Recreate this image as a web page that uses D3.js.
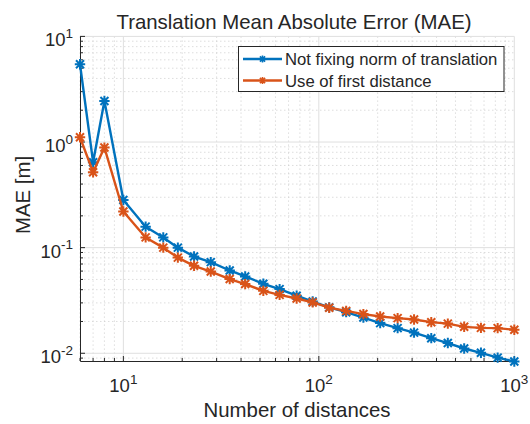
<!DOCTYPE html>
<html><head><meta charset="utf-8">
<script src="https://cdn.jsdelivr.net/npm/d3@7"></script>
<style>
html,body{margin:0;padding:0;background:#fff;}
text{font-family:"Liberation Sans",Arial,Helvetica,sans-serif;fill:#262626;}
</style></head>
<body><svg id="chart" width="530" height="424"></svg>
<script>
const distances = [6,7,8,10,13,16,19,23,28,35,42,52,63,77,93,113,138,169,206,253,307,376,457,554,675,822,1000];
const notFixing = [5.45,0.644,2.45,0.283,0.158,0.125,0.100,0.0824,0.0729,0.0608,0.0534,0.0455,0.0405,0.0351,0.0309,0.0272,0.0245,0.0218,0.0193,0.0173,0.0157,0.0139,0.0125,0.0111,0.0101,0.0091,0.00835];
const firstDist = [1.11,0.518,0.886,0.22,0.125,0.100,0.0805,0.0673,0.0594,0.0504,0.0452,0.039,0.0357,0.033,0.0303,0.0270,0.0252,0.0235,0.0223,0.0215,0.0209,0.0197,0.0191,0.0178,0.0174,0.0173,0.0167];
const seriesNames = ["Not fixing norm of translation","Use of first distance"];
const seriesColors = ["#0072BD","#D95319"];
const xMajor = [10,100,1000];
const yMajor = [0.01,0.1,1,10];
const xDomain = [6,1000];
const yDomain = [0.00845,10];
const title = "Translation Mean Absolute Error (MAE)";
const xLabel = "Number of distances";
const yLabel = "MAE [m]";

const svg = d3.select("#chart");
const L=80, R=514.3, T=36.4, B=361;
const x = d3.scaleLog().domain(xDomain).range([L,R]);
const y = d3.scaleLog().domain(yDomain).range([B,T]);

function minorTicks(dom){
  const out=[];
  for(let e=-3;e<=3;e++){
    for(let m=1;m<=9;m++){
      const v=m*Math.pow(10,e);
      if(v>=dom[0]*0.999 && v<=dom[1]*1.001) out.push(v);
    }
  }
  return out;
}
const xMin = minorTicks(xDomain).filter(v=>!xMajor.some(M=>Math.abs(M-v)<1e-9));
const yMin = minorTicks(yDomain).filter(v=>!yMajor.some(M=>Math.abs(M-v)<1e-12));

const g = svg.append("g");
// minor grid
g.selectAll(".xmg").data(xMin).enter().append("line")
  .attr("x1",d=>x(d)).attr("x2",d=>x(d)).attr("y1",T).attr("y2",B)
  .attr("stroke","#cfcfcf").attr("stroke-width",0.7).attr("stroke-dasharray","1.5,2.5");
g.selectAll(".ymg").data(yMin).enter().append("line")
  .attr("y1",d=>y(d)).attr("y2",d=>y(d)).attr("x1",L).attr("x2",R)
  .attr("stroke","#cfcfcf").attr("stroke-width",0.7).attr("stroke-dasharray","1.5,2.5");
// major grid
g.selectAll(".xg").data(xMajor).enter().append("line")
  .attr("x1",d=>x(d)).attr("x2",d=>x(d)).attr("y1",T).attr("y2",B)
  .attr("stroke","#dfdfdf").attr("stroke-width",1);
g.selectAll(".yg").data(yMajor).enter().append("line")
  .attr("y1",d=>y(d)).attr("y2",d=>y(d)).attr("x1",L).attr("x2",R)
  .attr("stroke","#dfdfdf").attr("stroke-width",1);

// axes
const xAxis = d3.axisBottom(x).tickValues(xMajor.concat(xMin)).tickSize(0).tickFormat("");
const ax = svg.append("g").attr("transform",`translate(0,${B})`).call(xAxis);
ax.select(".domain").attr("stroke","#262626").attr("stroke-width",1);
ax.selectAll(".tick line").remove();
const yAxis = d3.axisLeft(y).tickValues(yMajor.concat(yMin)).tickSize(0).tickFormat("");
const ay = svg.append("g").attr("transform",`translate(${L},0)`).call(yAxis);
ay.select(".domain").attr("stroke","#262626").attr("stroke-width",1);
ay.selectAll(".tick line").remove();
// inward ticks
svg.selectAll(".xt").data(xMajor.concat(xMin)).enter().append("line")
  .attr("x1",d=>x(d)).attr("x2",d=>x(d)).attr("y1",B).attr("y2",d=>B-(xMajor.includes(d)?5:3))
  .attr("stroke","#262626").attr("stroke-width",1);
svg.selectAll(".yt").data(yMajor.concat(yMin)).enter().append("line")
  .attr("y1",d=>y(d)).attr("y2",d=>y(d)).attr("x1",L).attr("x2",d=>L+(yMajor.includes(d)?5:3))
  .attr("stroke","#262626").attr("stroke-width",1);

// tick labels
function expLabel(sel){
  sel.append("tspan").attr("font-size",18.5).text("10");
  sel.append("tspan").attr("font-size",13.5).attr("dy",-8.5).text(d=>Math.round(Math.log10(d)));
}
svg.selectAll(".xl").data(xMajor).enter().append("text")
  .attr("x",d=>x(d)).attr("y",392).attr("text-anchor","middle").call(expLabel);
svg.selectAll(".yl").data(yMajor).enter().append("text")
  .attr("x",73).attr("y",d=>y(d)+10).attr("text-anchor","end").call(expLabel);

// lines
const series=[notFixing,firstDist];
const line = d3.line().x((d,i)=>x(distances[i])).y(d=>y(d));
series.forEach((s,k)=>{
  const sg = svg.append("g");
  sg.append("path").datum(s).attr("d",line).attr("fill","none")
    .attr("stroke",seriesColors[k]).attr("stroke-width",2.4).attr("stroke-linejoin","round");
  const r=4;
  sg.selectAll(".m").data(s).enter().append("path")
    .attr("transform",(d,i)=>`translate(${x(distances[i])},${y(d)})`)
    .attr("d",`M${-r},${-r}L${r},${r}M${-r},${r}L${r},${-r}M0,${-r*1.3}L0,${r*1.3}M${-r*1.3},0L${r*1.3},0`)
    .attr("stroke",seriesColors[k]).attr("stroke-width",2).attr("fill","none");
});

// legend
const lg = svg.append("g");
lg.append("rect").attr("x",238.5).attr("y",46.5).attr("width",265.5).attr("height",45)
  .attr("fill","#fff").attr("stroke","#262626").attr("stroke-width",1);
seriesNames.forEach((n,k)=>{
  const yy = k===0?59:80.5;
  lg.append("line").attr("x1",243).attr("x2",282).attr("y1",yy).attr("y2",yy)
    .attr("stroke",seriesColors[k]).attr("stroke-width",2.4);
  const r=2.6, cx=262.5;
  lg.append("path").attr("transform",`translate(${cx},${yy})`)
    .attr("d",`M${-r},${-r}L${r},${r}M${-r},${r}L${r},${-r}M0,${-r*1.3}L0,${r*1.3}`)
    .attr("stroke",seriesColors[k]).attr("stroke-width",1.6);
  lg.append("text").attr("x",285).attr("y",yy+6).attr("font-size",16.7).text(n);
});

// titles
svg.append("text").attr("x",294).attr("y",28.5).attr("text-anchor","middle").attr("font-size",20.4).text(title);
svg.append("text").attr("x",297).attr("y",417).attr("text-anchor","middle").attr("font-size",20.4).text(xLabel);
svg.append("text").attr("transform","translate(30,195) rotate(-90)").attr("text-anchor","middle").attr("font-size",20.4).text(yLabel);
</script></body></html>
